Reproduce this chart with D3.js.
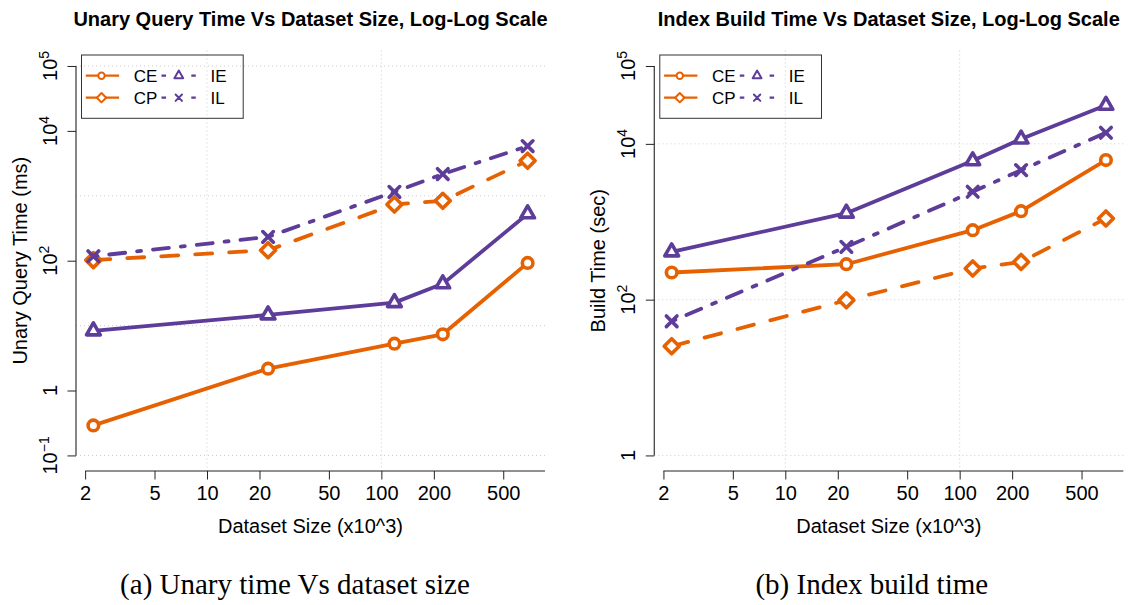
<!DOCTYPE html>
<html><head><meta charset="utf-8">
<script src="https://cdn.jsdelivr.net/npm/d3@7"></script>
<style>body{margin:0;background:#fff} svg{display:block}</style>
</head><body>
<svg id="chart" width="1132" height="605"></svg>
<script>
// ---- data ----
const sizes = [2.23, 22.4, 118.8, 225, 690];            // dataset size (x10^3)
const seriesNames = ["CE", "CP", "IE", "IL"];
const unaryCE = [0.29, 2.17, 5.27, 7.35, 92.5];
const unaryCP = [102, 145, 735, 837, 3470];
const unaryIE = [8.3, 14.6, 22.6, 44, 527];
const unaryIL = [117, 233, 1150, 2160, 5830];
const buildCE = [223, 285, 780, 1368, 6190];
const buildCP = [25.2, 98, 251, 305, 1102];
const buildIE = [410, 1290, 6070, 11530, 31260];
const buildIL = [52.7, 476, 2426, 4600, 13900];
const xTicks = [2, 5, 10, 20, 50, 100, 200, 500];
const xGrid = [10, 100];
const unaryYTicks = [0.1, 1, 100, 1e4, 1e5];
const unaryYLabels = [["10", "\u22121"], ["1", ""], ["10", "2"], ["10", "4"], ["10", "5"]];
const unaryYGrid = [0.1, 10, 1000, 1e5];
const unaryYLim = [0.1, 1e5];
const buildYTicks = [1, 100, 1e4, 1e5];
const buildYLabels = [["1", ""], ["10", "2"], ["10", "4"], ["10", "5"]];
const buildYGrid = [1, 100, 1e4];
const buildYLim = [1, 1e5];

// ---- styles ----
const ORANGE = "#E66101", PURPLE = "#5E3C99";
const styles = {
  CE: {color: ORANGE, dash: null, shape: "circle"},
  CP: {color: ORANGE, dash: "17,17", shape: "diamond"},
  IE: {color: PURPLE, dash: null, shape: "triangle"},
  IL: {color: PURPLE, dash: "4,12,16,12", shape: "cross"}
};
const SANS = "'Liberation Sans', Arial, Helvetica, sans-serif";
const SERIF = "'Liberation Serif', 'Times New Roman', serif";

const svg = d3.select("#chart");

function marker(g, shape, cx, cy, s, color, sw, fill) {
  if (shape === "circle") {
    g.append("circle").attr("cx", cx).attr("cy", cy).attr("r", s)
      .attr("fill", fill).attr("stroke", color).attr("stroke-width", sw);
  } else if (shape === "diamond") {
    const d = s * Math.SQRT2;
    g.append("path").attr("d", `M${cx},${cy - d}L${cx + d},${cy}L${cx},${cy + d}L${cx - d},${cy}Z`)
      .attr("fill", fill).attr("stroke", color).attr("stroke-width", sw).attr("stroke-linejoin", "round");
  } else if (shape === "triangle") {
    const r = s * 1.5, h = r * Math.sqrt(3) / 2;
    g.append("path").attr("d", `M${cx},${cy - r}L${cx + h},${cy + r / 2}L${cx - h},${cy + r / 2}Z`)
      .attr("fill", fill).attr("stroke", color).attr("stroke-width", sw).attr("stroke-linejoin", "round");
  } else if (shape === "cross") {
    g.append("path").attr("d", `M${cx - s},${cy - s}L${cx + s},${cy + s}M${cx - s},${cy + s}L${cx + s},${cy - s}`)
      .attr("fill", "none").attr("stroke", color).attr("stroke-width", sw).attr("stroke-linecap", "round");
  }
}

function panel(cfg) {
  const {left, right, top, bottom} = cfg;
  const g = svg.append("g");
  const lx0 = Math.log10(d3.min(sizes)), lx1 = Math.log10(d3.max(sizes));
  const px = 0.04 * (lx1 - lx0);
  const x = d3.scaleLog().domain([10 ** (lx0 - px), 10 ** (lx1 + px)]).range([left, right]);
  const ly0 = Math.log10(cfg.yLim[0]), ly1 = Math.log10(cfg.yLim[1]);
  const py = 0.04 * (ly1 - ly0);
  const y = d3.scaleLog().domain([10 ** (ly0 - py), 10 ** (ly1 + py)]).range([bottom, top]);

  // grid
  const grid = g.append("g").attr("stroke", "#cccccc").attr("stroke-width", 1).attr("stroke-dasharray", "1,3");
  cfg.yGrid.forEach(v => grid.append("line").attr("x1", left).attr("x2", right).attr("y1", y(v)).attr("y2", y(v)));
  xGrid.forEach(v => grid.append("line").attr("x1", x(v)).attr("x2", x(v)).attr("y1", top).attr("y2", bottom));

  // x axis
  const xa = g.append("g").attr("transform", `translate(0,${bottom})`)
    .call(d3.axisBottom(x).tickValues(xTicks).tickFormat(d3.format("d")).tickSize(8.5).tickSizeOuter(0));
  xa.select(".domain").attr("d", `M${x(xTicks[0])},0H${right}`).attr("stroke", "#222");
  xa.selectAll(".tick line").attr("stroke", "#222");
  xa.selectAll(".tick text").attr("font-family", SANS).attr("font-size", 20).attr("fill", "#000")
    .attr("y", 29).attr("dy", 0);

  // y axis
  const ya = g.append("g").attr("transform", `translate(${left},0)`)
    .call(d3.axisLeft(y).tickValues(cfg.yTicks).tickFormat("").tickSize(8.5).tickSizeOuter(0));
  ya.select(".domain").attr("d", `M0,${y(d3.max(cfg.yTicks))}V${y(d3.min(cfg.yTicks))}`).attr("stroke", "#444").attr("stroke-width", 1.3);
  ya.selectAll(".tick line").attr("stroke", "#222");
  cfg.yTicks.forEach((v, i) => {
    const [base, sup] = cfg.yLabels[i];
    const t = g.append("text").attr("transform", `translate(${left - 19.5},${y(v)}) rotate(-90)`)
      .attr("text-anchor", "middle").attr("font-family", SANS).attr("font-size", 20).attr("fill", "#000");
    t.append("tspan").text(base);
    if (sup) t.append("tspan").attr("dy", -8).attr("font-size", 14).text(sup);
  });

  // titles
  g.append("text").attr("x", (left + right) / 2).attr("y", 25.7).attr("text-anchor", "middle")
    .attr("font-family", SANS).attr("font-weight", "bold").attr("font-size", 20).text(cfg.title);
  g.append("text").attr("x", (left + right) / 2).attr("y", 533.3).attr("text-anchor", "middle")
    .attr("font-family", SANS).attr("font-size", 20).text("Dataset Size (x10^3)");
  g.append("text").attr("transform", `translate(${left - 49},${(top + bottom) / 2}) rotate(-90)`)
    .attr("text-anchor", "middle").attr("font-family", SANS).attr("font-size", 20).text(cfg.ylabel);
  g.append("text").attr("x", cfg.captionX).attr("y", 594).attr("text-anchor", "middle")
    .attr("font-family", SERIF).attr("font-size", 29).text(cfg.caption);

  // series
  const line = d3.line().x(d => x(d[0])).y(d => y(d[1]));
  seriesNames.forEach((name, k) => {
    const st = styles[name];
    const pts = sizes.map((s, i) => [s, cfg.series[k][i]]);
    const sg = g.append("g");
    sg.append("path").attr("d", line(pts)).attr("fill", "none").attr("stroke", st.color)
      .attr("stroke-width", 3.8).attr("stroke-linecap", "round").attr("stroke-linejoin", "round")
      .attr("stroke-dasharray", st.dash);
    pts.forEach(p => marker(sg, st.shape, x(p[0]), y(p[1]), 5.3, st.color, 3.6, "#fff"));
  });

  // legend
  const bx = left + 5.5, by = top + 4.6;
  const lg = g.append("g");
  lg.append("rect").attr("x", bx).attr("y", by).attr("width", 161.7).attr("height", 63.3)
    .attr("fill", "none").attr("stroke", "#333").attr("stroke-width", 1);
  const cols = [[0, 1], [2, 3]];
  cols.forEach((col, ci) => {
    const x0 = bx + (ci === 0 ? 4.3 : 80), x1 = bx + (ci === 0 ? 37.6 : 114.3);
    const mx = bx + (ci === 0 ? 20 : 97.3), tx = bx + (ci === 0 ? 52.3 : 129);
    col.forEach((k, ri) => {
      const name = seriesNames[k], st = styles[name];
      const ry = by + (ri === 0 ? 20.7 : 42.7);
      lg.append("line").attr("x1", x0).attr("x2", x1).attr("y1", ry).attr("y2", ry)
        .attr("stroke", st.color).attr("stroke-width", 2.2)
        .attr("stroke-dasharray", ci === 0 ? null : "4.5,25.3");
      const ms = st.shape === "triangle" ? 3.4 : (st.shape === "diamond" ? 3.3 : 3.2);
      marker(lg, st.shape, mx, ry, ms, st.color, 2, "#fff");
      lg.append("text").attr("x", tx).attr("y", ry + 6).attr("font-family", SANS).attr("font-size", 17)
        .text(name);
    });
  });
}

panel({
  left: 76, right: 545, top: 50.4, bottom: 471,
  title: "Unary Query Time Vs Dataset Size, Log-Log Scale",
  ylabel: "Unary Query Time (ms)",
  caption: "(a) Unary time Vs dataset size", captionX: 295,
  yLim: unaryYLim, yTicks: unaryYTicks, yLabels: unaryYLabels, yGrid: unaryYGrid,
  series: [unaryCE, unaryCP, unaryIE, unaryIL]
});
panel({
  left: 654.3, right: 1123.3, top: 50.4, bottom: 471,
  title: "Index Build Time Vs Dataset Size, Log-Log Scale",
  ylabel: "Build Time (sec)",
  caption: "(b) Index build time", captionX: 871.8,
  yLim: buildYLim, yTicks: buildYTicks, yLabels: buildYLabels, yGrid: buildYGrid,
  series: [buildCE, buildCP, buildIE, buildIL]
});
</script>
</body></html>
